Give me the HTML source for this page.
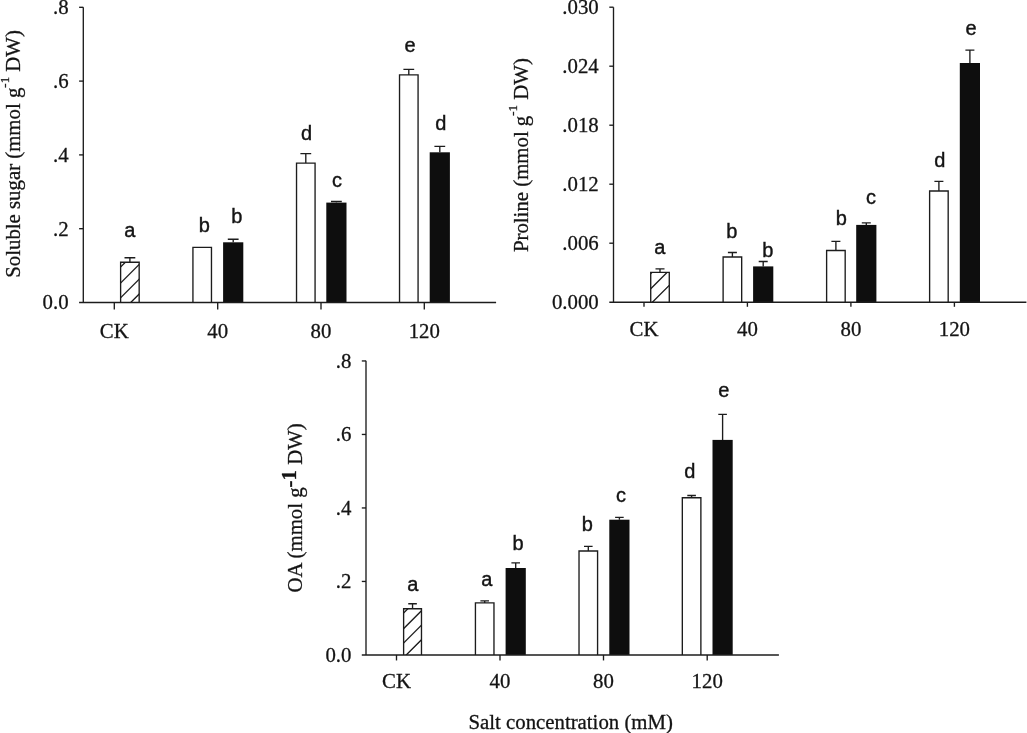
<!DOCTYPE html>
<html><head><meta charset="utf-8"><title>Figure</title>
<style>
html,body{margin:0;padding:0;background:#fff;}
body{width:1027px;height:733px;overflow:hidden;}
svg{display:block;will-change:transform;}
.ln{stroke:#1c1c1c;stroke-width:1.35;fill:none;}
.ax{stroke:#1c1c1c;stroke-width:1.6;fill:none;}
.se{font-family:"Liberation Serif",serif;font-size:20.8px;fill:#141414;stroke:#141414;stroke-width:0.3px;}
.sa{font-family:"Liberation Sans",sans-serif;font-size:20px;fill:#141414;stroke:#141414;stroke-width:0.4px;}
.ti{font-size:20.8px;}
.sup1{font-size:13px;}
.sup3{font-size:20.8px;font-weight:bold;}
</style></head><body>
<svg width="1027" height="733" viewBox="0 0 1027 733">
<rect width="1027" height="733" fill="#fff"/>
<g>
<path d="M129.9 262.2 V257.7 M124.5 257.7 H135.3" class="ln"/>
<path d="M120.62 302.5 V262.2 H139.17 V302.5" fill="#fff" stroke="#1c1c1c" stroke-width="1.35" stroke-linejoin="miter"/>
<clipPath id="c129_262"><rect x="120.62" y="262.2" width="18.55" height="40.30000000000001"/></clipPath>
<path d="M118.625 268.975 L141.17499999999998 246.42500000000004 M118.625 284.975 L141.17499999999998 262.42500000000007 M118.625 299.775 L141.17499999999998 277.225 M118.625 314.575 L141.17499999999998 292.025 " class="ln" clip-path="url(#c129_262)"/>
<path d="M192.93 302.5 V247.4 H211.47 V302.5" fill="#fff" stroke="#1c1c1c" stroke-width="1.35" stroke-linejoin="miter"/>
<path d="M233.2 242.3 V239.2 M227.79999999999998 239.2 H238.6" class="ln"/>
<rect x="223.1" y="242.3" width="20.2" height="60.19999999999999" fill="#0e0e0e"/>
<path d="M305.8 163.1 V153.6 M300.40000000000003 153.6 H311.2" class="ln"/>
<path d="M296.53 302.5 V163.1 H315.07 V302.5" fill="#fff" stroke="#1c1c1c" stroke-width="1.35" stroke-linejoin="miter"/>
<path d="M336.4 202.6 V201.5 M331.0 201.5 H341.79999999999995" class="ln"/>
<rect x="326.29999999999995" y="202.6" width="20.2" height="99.9" fill="#0e0e0e"/>
<path d="M408.8 74.9 V69.3 M403.40000000000003 69.3 H414.2" class="ln"/>
<path d="M399.53 302.5 V74.9 H418.07 V302.5" fill="#fff" stroke="#1c1c1c" stroke-width="1.35" stroke-linejoin="miter"/>
<path d="M439.8 152.3 V146.3 M434.40000000000003 146.3 H445.2" class="ln"/>
<rect x="429.7" y="152.3" width="20.2" height="150.2" fill="#0e0e0e"/>
<text x="129.9" y="237.0" class="sa" text-anchor="middle">a</text>
<text x="204.2" y="231.6" class="sa" text-anchor="middle">b</text>
<text x="236.7" y="222.6" class="sa" text-anchor="middle">b</text>
<text x="306.6" y="139.8" class="sa" text-anchor="middle">d</text>
<text x="337.1" y="186.5" class="sa" text-anchor="middle">c</text>
<text x="410.1" y="51.7" class="sa" text-anchor="middle">e</text>
<text x="440.8" y="130.4" class="sa" text-anchor="middle">d</text>
<text transform="translate(20 153.9) rotate(-90)" class="se ti" text-anchor="middle">Soluble sugar (mmol g<tspan class="sup1" dy="-11.5">-1</tspan><tspan dy="11.5"> DW)</tspan></text>
<path d="M660.0 272.4 V268.9 M655.5 268.9 H664.5" class="ln"/>
<path d="M650.72 302.2 V272.4 H669.28 V302.2" fill="#fff" stroke="#1c1c1c" stroke-width="1.35" stroke-linejoin="miter"/>
<clipPath id="c660_272"><rect x="650.72" y="272.4" width="18.55" height="29.80000000000001"/></clipPath>
<path d="M648.7249999999999 275.67500000000007 L671.2750000000001 253.1249999999999 M648.7249999999999 290.7750000000001 L671.2750000000001 268.2249999999999 M648.7249999999999 305.8750000000001 L671.2750000000001 283.32499999999993 " class="ln" clip-path="url(#c660_272)"/>
<path d="M732.4 257.0 V252.5 M727.9 252.5 H736.9" class="ln"/>
<path d="M723.12 302.2 V257.0 H741.68 V302.2" fill="#fff" stroke="#1c1c1c" stroke-width="1.35" stroke-linejoin="miter"/>
<path d="M763.1999999999999 266.4 V261.5 M758.6999999999999 261.5 H767.6999999999999" class="ln"/>
<rect x="753.0999999999999" y="266.4" width="20.2" height="35.80000000000001" fill="#0e0e0e"/>
<path d="M835.9 250.5 V241.3 M831.4 241.3 H840.4" class="ln"/>
<path d="M826.62 302.2 V250.5 H845.18 V302.2" fill="#fff" stroke="#1c1c1c" stroke-width="1.35" stroke-linejoin="miter"/>
<path d="M866.3 224.9 V222.8 M861.8 222.8 H870.8" class="ln"/>
<rect x="856.1999999999999" y="224.9" width="20.2" height="77.29999999999998" fill="#0e0e0e"/>
<path d="M938.9 191.0 V181.3 M934.4 181.3 H943.4" class="ln"/>
<path d="M929.62 302.2 V191.0 H948.18 V302.2" fill="#fff" stroke="#1c1c1c" stroke-width="1.35" stroke-linejoin="miter"/>
<path d="M969.9 63.0 V50.1 M965.4 50.1 H974.4" class="ln"/>
<rect x="959.8" y="63.0" width="20.2" height="239.2" fill="#0e0e0e"/>
<text x="659.8" y="253.7" class="sa" text-anchor="middle">a</text>
<text x="731.8" y="237.8" class="sa" text-anchor="middle">b</text>
<text x="767.7" y="256.5" class="sa" text-anchor="middle">b</text>
<text x="841.2" y="225.4" class="sa" text-anchor="middle">b</text>
<text x="871.0" y="204.0" class="sa" text-anchor="middle">c</text>
<text x="939.9" y="166.9" class="sa" text-anchor="middle">d</text>
<text x="971.0" y="35.4" class="sa" text-anchor="middle">e</text>
<text transform="translate(528 155.1) rotate(-90)" class="se ti" text-anchor="middle">Proline (mmol g<tspan class="sup1" dy="-11.5">-1</tspan><tspan dy="11.5"> DW)</tspan></text>
<path d="M412.55 608.7 V603.7 M408.25 603.7 H416.85" class="ln"/>
<path d="M403.62 654.95 V608.7 H421.48 V654.95" fill="#fff" stroke="#1c1c1c" stroke-width="1.35" stroke-linejoin="miter"/>
<clipPath id="c412_608"><rect x="403.62" y="608.7" width="17.85" height="46.25"/></clipPath>
<path d="M401.625 614.975 L423.475 593.125 M401.625 630.575 L423.475 608.725 M401.625 644.9749999999999 L423.475 623.1249999999999 M401.625 659.575 L423.475 637.725 " class="ln" clip-path="url(#c412_608)"/>
<path d="M484.7 602.9 V600.9 M480.4 600.9 H489.0" class="ln"/>
<path d="M475.43 654.95 V602.9 H493.97 V654.95" fill="#fff" stroke="#1c1c1c" stroke-width="1.35" stroke-linejoin="miter"/>
<path d="M515.7 568.0 V562.8 M511.40000000000003 562.8 H520.0" class="ln"/>
<rect x="505.6" y="568.0" width="20.2" height="86.95000000000005" fill="#0e0e0e"/>
<path d="M588.3 551.0 V546.4 M584.0 546.4 H592.5999999999999" class="ln"/>
<path d="M579.02 654.95 V551.0 H597.58 V654.95" fill="#fff" stroke="#1c1c1c" stroke-width="1.35" stroke-linejoin="miter"/>
<path d="M619.4 519.7 V517.3 M615.1 517.3 H623.6999999999999" class="ln"/>
<rect x="609.3" y="519.7" width="20.2" height="135.25" fill="#0e0e0e"/>
<path d="M691.6 497.7 V495.5 M687.3000000000001 495.5 H695.9" class="ln"/>
<path d="M682.32 654.95 V497.7 H700.88 V654.95" fill="#fff" stroke="#1c1c1c" stroke-width="1.35" stroke-linejoin="miter"/>
<path d="M722.6 439.9 V414.4 M718.3000000000001 414.4 H726.9" class="ln"/>
<rect x="712.5" y="439.9" width="20.2" height="215.05000000000007" fill="#0e0e0e"/>
<text x="412.8" y="591.3" class="sa" text-anchor="middle">a</text>
<text x="486.9" y="585.8" class="sa" text-anchor="middle">a</text>
<text x="518.0" y="550.4" class="sa" text-anchor="middle">b</text>
<text x="587.3" y="531.2" class="sa" text-anchor="middle">b</text>
<text x="620.9" y="501.6" class="sa" text-anchor="middle">c</text>
<text x="689.8" y="478.0" class="sa" text-anchor="middle">d</text>
<text x="723.7" y="396.8" class="sa" text-anchor="middle">e</text>
<text transform="translate(302 507.9) rotate(-90)" class="se ti" text-anchor="middle">OA (mmol g<tspan class="sup3" dy="-6.1">-1</tspan><tspan dy="6.1"> DW)</tspan></text>
<text x="570.7" y="729.3" class="se ti" text-anchor="middle">Salt concentration (mM)</text>
<path d="M83.3 7.3 V302.5" class="ln"/>
<path d="M79.1 302.5 H496.1" class="ax"/>
<path d="M79.1 228.7 H83.3" class="ln"/>
<path d="M79.1 154.9 H83.3" class="ln"/>
<path d="M79.1 81.10000000000002 H83.3" class="ln"/>
<path d="M79.1 7.300000000000011 H83.3" class="ln"/>
<text x="68.6" y="309.4" class="se" text-anchor="end">0.0</text>
<text x="68.6" y="235.6" class="se" text-anchor="end">.2</text>
<text x="68.6" y="161.8" class="se" text-anchor="end">.4</text>
<text x="68.6" y="88.00000000000003" class="se" text-anchor="end">.6</text>
<text x="68.6" y="14.200000000000012" class="se" text-anchor="end">.8</text>
<path d="M114.3 302.5 V309.5" class="ln"/>
<text x="114.3" y="337.6" class="se" text-anchor="middle">CK</text>
<path d="M217.7 302.5 V309.5" class="ln"/>
<text x="217.7" y="337.6" class="se" text-anchor="middle">40</text>
<path d="M321.0 302.5 V309.5" class="ln"/>
<text x="321.0" y="337.6" class="se" text-anchor="middle">80</text>
<path d="M424.3 302.5 V309.5" class="ln"/>
<text x="424.3" y="337.6" class="se" text-anchor="middle">120</text>
<path d="M613.5 7.2 V302.2" class="ln"/>
<path d="M609.3 302.2 H1026.4" class="ax"/>
<path d="M609.3 243.2 H613.5" class="ln"/>
<path d="M609.3 184.2 H613.5" class="ln"/>
<path d="M609.3 125.19999999999999 H613.5" class="ln"/>
<path d="M609.3 66.19999999999999 H613.5" class="ln"/>
<path d="M609.3 7.199999999999989 H613.5" class="ln"/>
<text x="598.7" y="309.09999999999997" class="se" text-anchor="end">0.000</text>
<text x="598.7" y="250.1" class="se" text-anchor="end">.006</text>
<text x="598.7" y="191.1" class="se" text-anchor="end">.012</text>
<text x="598.7" y="132.1" class="se" text-anchor="end">.018</text>
<text x="598.7" y="73.1" class="se" text-anchor="end">.024</text>
<text x="598.7" y="14.099999999999989" class="se" text-anchor="end">.030</text>
<path d="M644.0 302.2 V306.8" class="ln"/>
<text x="644.0" y="335.6" class="se" text-anchor="middle">CK</text>
<path d="M747.4 302.2 V306.8" class="ln"/>
<text x="747.4" y="335.6" class="se" text-anchor="middle">40</text>
<path d="M850.9 302.2 V306.8" class="ln"/>
<text x="850.9" y="335.6" class="se" text-anchor="middle">80</text>
<path d="M954.4 302.2 V306.8" class="ln"/>
<text x="954.4" y="335.6" class="se" text-anchor="middle">120</text>
<path d="M366.0 360.7 V654.95" class="ln"/>
<path d="M361.8 654.95 H778.9" class="ax"/>
<path d="M361.8 581.45 H366.0" class="ln"/>
<path d="M361.8 507.95000000000005 H366.0" class="ln"/>
<path d="M361.8 434.45000000000005 H366.0" class="ln"/>
<path d="M361.8 360.95000000000005 H366.0" class="ln"/>
<text x="351.4" y="661.95" class="se" text-anchor="end">0.0</text>
<text x="351.4" y="588.45" class="se" text-anchor="end">.2</text>
<text x="351.4" y="514.95" class="se" text-anchor="end">.4</text>
<text x="351.4" y="441.45000000000005" class="se" text-anchor="end">.6</text>
<text x="351.4" y="367.95000000000005" class="se" text-anchor="end">.8</text>
<path d="M396.5 654.95 V660.45" class="ln"/>
<text x="396.5" y="688.4" class="se" text-anchor="middle">CK</text>
<path d="M500.0 654.95 V660.45" class="ln"/>
<text x="500.0" y="688.4" class="se" text-anchor="middle">40</text>
<path d="M603.5 654.95 V660.45" class="ln"/>
<text x="603.5" y="688.4" class="se" text-anchor="middle">80</text>
<path d="M707.2 654.95 V660.45" class="ln"/>
<text x="707.2" y="688.4" class="se" text-anchor="middle">120</text>
</g>
</svg>
</body></html>
